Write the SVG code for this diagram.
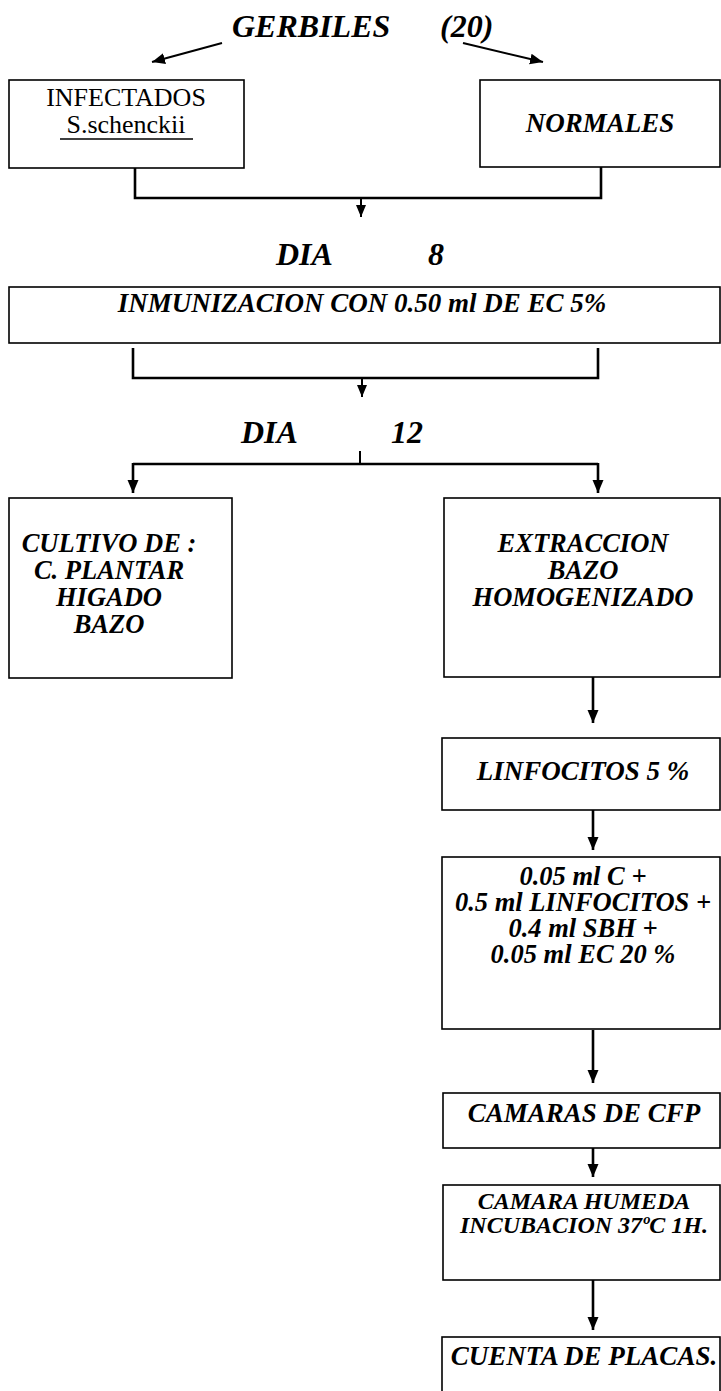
<svg xmlns="http://www.w3.org/2000/svg" width="721" height="1391" viewBox="0 0 721 1391">
<style>
.bg{fill:#fff}
.box{fill:#fff;stroke:#000;stroke-width:1.6}
.con{fill:none;stroke:#000;stroke-width:2.6}
.thin{fill:none;stroke:#000;stroke-width:2}
.bi{font-family:"Liberation Serif","Times New Roman",serif;font-weight:bold;font-style:italic;fill:#000}
.rg{font-family:"Liberation Serif","Times New Roman",serif;fill:#000}
.m{text-anchor:middle}
</style>
<defs>
<marker id="ah" markerUnits="userSpaceOnUse" markerWidth="13" markerHeight="13" viewBox="0 0 13 13" refX="13" refY="6.5" orient="auto">
<path d="M0,1 L13,6.5 L0,12 z" fill="#000"/>
</marker>
<marker id="ahs" markerUnits="userSpaceOnUse" markerWidth="12" markerHeight="12" viewBox="0 0 12 12" refX="12" refY="6" orient="auto">
<path d="M0,1 L12,6 L0,11 z" fill="#000"/>
</marker>
</defs>
<rect class="bg" x="0" y="0" width="721" height="1391"/>

<g id="title">
<text class="bi" x="232" y="37" font-size="32">GERBILES</text>
<text class="bi" x="440" y="37" font-size="32">(20)</text>
</g>

<g id="infectados">
<rect class="box" x="9" y="80" width="235" height="88"/>
<text class="rg m" x="126" y="106" font-size="26">INFECTADOS</text>
<text class="rg m" x="126" y="133" font-size="26">S.schenckii</text>
<line x1="60" y1="139" x2="193" y2="139" stroke="#000" stroke-width="1.3"/>
</g>

<g id="normales">
<rect class="box" x="480" y="80" width="240" height="87"/>
<text class="bi m" x="600" y="132" font-size="27">NORMALES</text>
</g>

<g id="dia8">
<text class="bi" x="276" y="265" font-size="32">DIA</text>
<text class="bi" x="428" y="265" font-size="32">8</text>
</g>

<g id="inmunizacion">
<rect class="box" x="9" y="287" width="711" height="56"/>
<text class="bi m" x="362" y="312" font-size="27">INMUNIZACION CON 0.50 ml DE EC 5%</text>
</g>

<g id="dia12">
<text class="bi" x="241" y="443" font-size="32">DIA</text>
<text class="bi" x="391" y="443" font-size="32">12</text>
</g>

<g id="cultivo">
<rect class="box" x="9" y="498" width="223" height="180"/>
<text class="bi m" x="109" y="552" font-size="26.5">CULTIVO DE :</text>
<text class="bi m" x="109" y="579" font-size="26.5">C. PLANTAR</text>
<text class="bi m" x="109" y="606" font-size="26.5">HIGADO</text>
<text class="bi m" x="109" y="633" font-size="26.5">BAZO</text>
</g>

<g id="extraccion">
<rect class="box" x="444" y="498" width="276" height="179"/>
<text class="bi m" x="583" y="552" font-size="26.5">EXTRACCION</text>
<text class="bi m" x="583" y="579" font-size="26.5">BAZO</text>
<text class="bi m" x="583" y="606" font-size="26.5">HOMOGENIZADO</text>
</g>

<g id="linfocitos">
<rect class="box" x="442" y="738" width="278" height="72"/>
<text class="bi m" x="583" y="780" font-size="27">LINFOCITOS 5 %</text>
</g>

<g id="mezcla">
<rect class="box" x="442" y="857" width="278" height="172"/>
<text class="bi m" x="583" y="885" font-size="26.5">0.05 ml C +</text>
<text class="bi m" x="583" y="911" font-size="26.5">0.5 ml LINFOCITOS +</text>
<text class="bi m" x="583" y="937" font-size="26.5">0.4 ml SBH +</text>
<text class="bi m" x="583" y="963" font-size="26.5">0.05 ml EC 20 %</text>
</g>

<g id="camaras">
<rect class="box" x="443" y="1093" width="277" height="55"/>
<text class="bi m" x="584" y="1122" font-size="27">CAMARAS DE CFP</text>
</g>

<g id="humeda">
<rect class="box" x="443" y="1185" width="277" height="95"/>
<text class="bi m" x="584" y="1209" font-size="24">CAMARA HUMEDA</text>
<text class="bi m" x="584" y="1233" font-size="24">INCUBACION 37ºC 1H.</text>
</g>

<g id="cuenta">
<rect class="box" x="442" y="1337" width="278" height="70"/>
<text class="bi m" x="584" y="1365" font-size="27">CUENTA DE PLACAS.</text>
</g>

<g id="connectors">
<line class="thin" x1="222" y1="43" x2="152" y2="62" marker-end="url(#ah)"/>
<line class="thin" x1="463" y1="43" x2="543" y2="62" marker-end="url(#ah)"/>
<path class="con" d="M135,168 V198 H601 V167"/>
<line class="thin" x1="361" y1="198" x2="361" y2="217" marker-end="url(#ahs)"/>
<path class="con" d="M133,348 V378 H598 V348"/>
<line class="thin" x1="362" y1="378" x2="362" y2="397" marker-end="url(#ahs)"/>
<line class="thin" x1="360" y1="451" x2="360" y2="464"/>
<path class="con" d="M133,464 H598"/>
<line class="con" x1="133" y1="463" x2="133" y2="493" marker-end="url(#ah)"/>
<line class="con" x1="598" y1="463" x2="598" y2="493" marker-end="url(#ah)"/>
<line class="con" x1="593" y1="677" x2="593" y2="723" marker-end="url(#ah)"/>
<line class="con" x1="593" y1="810" x2="593" y2="850" marker-end="url(#ah)"/>
<line class="con" x1="593" y1="1030" x2="593" y2="1083" marker-end="url(#ah)"/>
<line class="con" x1="593" y1="1148" x2="593" y2="1177" marker-end="url(#ah)"/>
<line class="con" x1="593" y1="1280" x2="593" y2="1330" marker-end="url(#ah)"/>
</g>
</svg>
